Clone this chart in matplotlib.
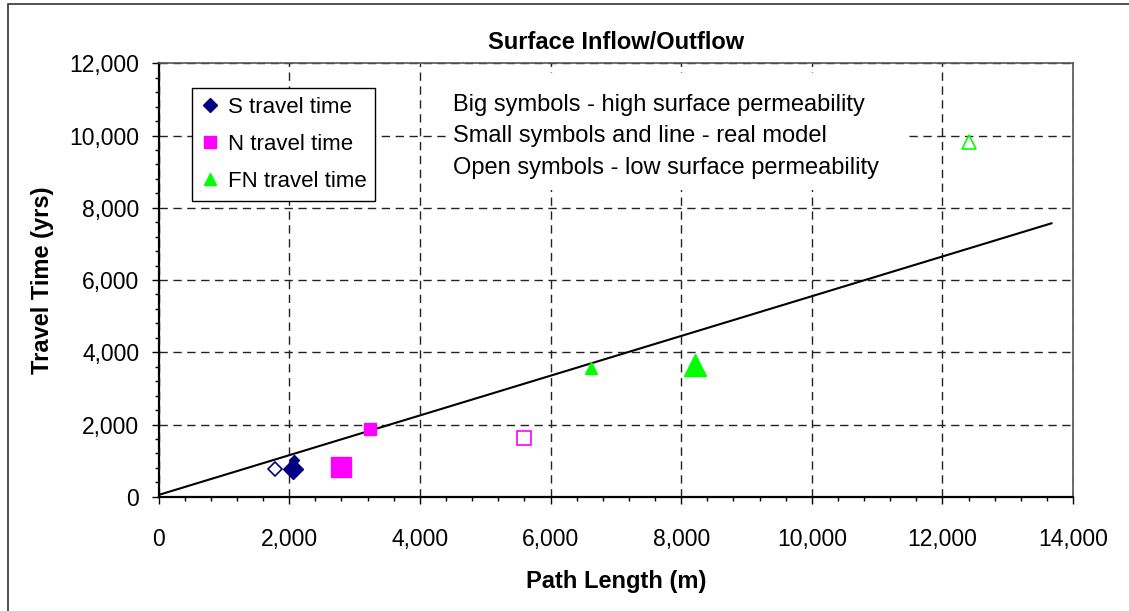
import matplotlib.pyplot as plt
from matplotlib.lines import Line2D
from matplotlib.patches import Rectangle
from matplotlib.ticker import MultipleLocator, StrMethodFormatter

plt.rcParams['font.family'] = ['Liberation Sans', 'DejaVu Sans']

# real model (small symbols)
s_path, s_time = [2080], [1010]
n_path, n_time = [3240], [1870]
fn_path, fn_time = [6620], [3560]

# high surface permeability (big symbols)
s_high_path, s_high_time = [2050], [760]
n_high_path, n_high_time = [2790], [815]
fn_high_path, fn_high_time = [8220], [3640]

# low surface permeability (open symbols)
s_low_path, s_low_time = [1780], [760]
n_low_path, n_low_time = [5590], [1620]
fn_low_path, fn_low_time = [12400], [9830]

# fitted line for the real model
fit_path = [0, 13670]
fit_time = [50, 7570]

notes = ['Big symbols - high surface permeability',
         'Small symbols and line - real model',
         'Open symbols - low surface permeability']

NAVY = '#000080'
MAGENTA = '#FF00FF'
LIME = '#00FF00'

fig = plt.figure(figsize=(11.29, 6.11), dpi=100)
ax = fig.add_axes([0.1405, 0.187, 0.8099, 0.7094])

ax.plot(fit_path, fit_time, color='black', lw=1.5, zorder=3)

ax.plot(s_path, s_time, 'D', color=NAVY, ms=5.4, mec=NAVY, zorder=4)
ax.plot(n_path, n_time, 's', color=MAGENTA, ms=8.6, mec=MAGENTA, zorder=4)
ax.plot(fn_path, fn_time, '^', color=LIME, ms=8.6, mec=LIME, zorder=4)

ax.plot(s_high_path, s_high_time, 'D', color=NAVY, ms=10.2, mec=NAVY, zorder=4)
ax.plot(n_high_path, n_high_time, 's', color=MAGENTA, ms=14.4, mec=MAGENTA, zorder=4)
ax.plot(fn_high_path, fn_high_time, '^', color=LIME, ms=15.8, mec=LIME, zorder=4)

ax.plot(s_low_path, s_low_time, 'D', mfc='none', mec=NAVY, mew=1.2, ms=7.6, zorder=4)
ax.plot(n_low_path, n_low_time, 's', mfc='none', mec=MAGENTA, mew=1.2, ms=9.4, zorder=4)
ax.plot(fn_low_path, fn_low_time, '^', mfc='none', mec=LIME, mew=1.2, ms=10, zorder=4)

ax.set_xlim(0, 14000)
ax.set_ylim(0, 12000)
ax.xaxis.set_major_locator(MultipleLocator(2000))
ax.xaxis.set_minor_locator(MultipleLocator(400))
ax.yaxis.set_major_locator(MultipleLocator(2000))
ax.yaxis.set_minor_locator(MultipleLocator(400))
ax.xaxis.set_major_formatter(StrMethodFormatter('{x:,.0f}'))
ax.yaxis.set_major_formatter(StrMethodFormatter('{x:,.0f}'))
ax.tick_params(which='major', direction='out', length=5, width=1,
               labelsize=16.5)
ax.tick_params(which='minor', direction='out', length=3, width=1)
ax.tick_params(axis='y', which='major', pad=9)
ax.tick_params(axis='x', which='major', pad=17.5)

ax.grid(True, which='major', color='#222222', lw=1, ls=(0, (6, 4)))
ax.set_axisbelow(True)
for side in ('left', 'bottom'):
    ax.spines[side].set_linewidth(1.6)
    ax.spines[side].set_color('black')
for side in ('top', 'right'):
    ax.spines[side].set_linewidth(1.2)
    ax.spines[side].set_color('#555555')

ax.set_title('Surface Inflow/Outflow', fontsize=17, fontweight='bold', pad=10)
ax.set_xlabel('Path Length (m)', fontsize=17, fontweight='bold', labelpad=14)
ax.set_ylabel('Travel Time (yrs)', fontsize=17, fontweight='bold', labelpad=11)

handles = [
    Line2D([], [], ls='none', marker='D', color=NAVY, ms=7),
    Line2D([], [], ls='none', marker='s', color=MAGENTA, ms=8),
    Line2D([], [], ls='none', marker='^', color=LIME, ms=9),
]
leg = ax.legend(handles, ['S travel time', 'N travel time', 'FN travel time'],
                loc='upper left', bbox_to_anchor=(0.0365, 0.943),
                fontsize=16, frameon=True, fancybox=False, framealpha=1,
                edgecolor='black', borderpad=0.4, labelspacing=0.72,
                handlelength=0.8, handletextpad=0.4, borderaxespad=0)
leg.get_frame().set_linewidth(1)

# white block behind the notes hides the gridlines
ax.add_patch(Rectangle((0.315, 0.708), 0.501, 0.27, transform=ax.transAxes,
                       facecolor='white', edgecolor='none', zorder=1))
for i, line in enumerate(notes):
    ax.text(0.322, 0.904 - i * 0.0725, line, transform=ax.transAxes,
            fontsize=17, va='center', ha='left', zorder=2)

# outer chart border
fig.patches.append(Rectangle((8 / 1129, -0.05), 1.2, 1 - 4 / 611 + 0.05,
                             transform=fig.transFigure, fill=False,
                             edgecolor='#333333', lw=1.2))

fig.savefig('out.png', dpi=100)
